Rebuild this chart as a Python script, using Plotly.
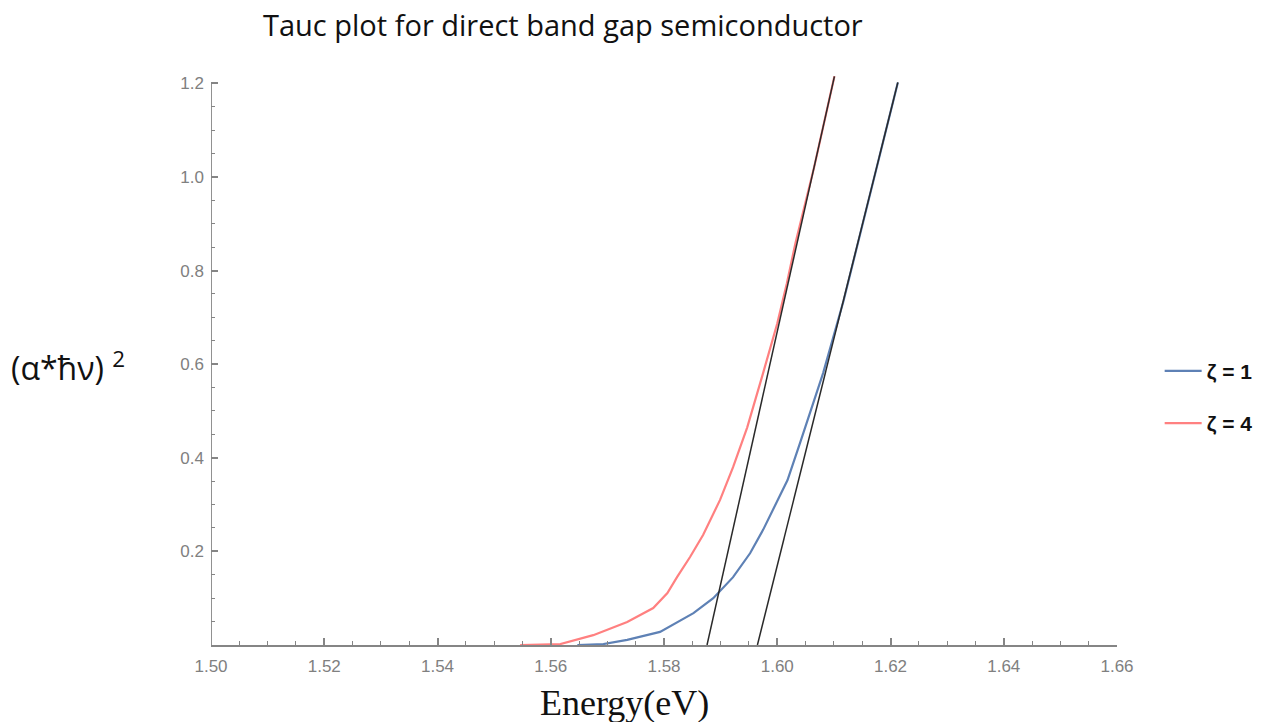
import plotly.graph_objects as go

# zeta = 1 curve (blue)
x_z1 = [1.5647, 1.5693, 1.5735, 1.5793, 1.5852, 1.5887, 1.5922, 1.5952, 1.5975,
        1.6018, 1.6040, 1.6063, 1.6081, 1.6117, 1.6157, 1.6213]
y_z1 = [0.000, 0.002, 0.011, 0.028, 0.068, 0.100, 0.145, 0.196, 0.246,
        0.352, 0.431, 0.517, 0.581, 0.735, 0.930, 1.202]

# zeta = 4 curve (red)
x_z4 = [1.5546, 1.5617, 1.5675, 1.5735, 1.5781, 1.5806, 1.5823, 1.5846, 1.5869,
        1.5899, 1.5922, 1.5947, 1.5975, 1.6000, 1.6017, 1.6032, 1.6065, 1.6101]
y_z4 = [0.000, 0.002, 0.021, 0.049, 0.079, 0.111, 0.145, 0.188, 0.235,
        0.310, 0.380, 0.465, 0.581, 0.687, 0.773, 0.858, 1.020, 1.215]

# tangent (linear fit) lines
x_fit4 = [1.5876, 1.6101]
y_fit4 = [0.0, 1.215]
x_fit1 = [1.5965, 1.6213]
y_fit1 = [0.0, 1.202]

x_tick_vals = [1.50, 1.52, 1.54, 1.56, 1.58, 1.60, 1.62, 1.64, 1.66]
x_tick_text = ["1.50", "1.52", "1.54", "1.56", "1.58", "1.60", "1.62", "1.64", "1.66"]
y_tick_vals = [0.2, 0.4, 0.6, 0.8, 1.0, 1.2]
y_tick_text = ["0.2", "0.4", "0.6", "0.8", "1.0", "1.2"]

BLUE = "#5E81B5"
RED = "#FF8080"
AX = "#858585"

fig = go.Figure()
fig.add_trace(go.Scatter(x=x_z1, y=y_z1, mode="lines", name="\u03b6 = 1",
                         line=dict(color=BLUE, width=2.2), legendgroup="a"))
fig.add_trace(go.Scatter(x=x_z4, y=y_z4, mode="lines", name="\u03b6 = 4",
                         line=dict(color=RED, width=2.2), legendgroup="b"))
fig.add_trace(go.Scatter(x=x_fit4, y=y_fit4, mode="lines", showlegend=False,
                         line=dict(color="#2a2a2a", width=1.5)))
fig.add_trace(go.Scatter(x=x_fit1, y=y_fit1, mode="lines", showlegend=False,
                         line=dict(color="#2a2a2a", width=1.5)))

# y-axis line only up to 1.2
fig.add_shape(type="line", xref="x", yref="y", x0=1.5, x1=1.5, y0=0, y1=1.2,
              line=dict(color=AX, width=1.8), layer="above")

fig.update_layout(
    width=1279, height=722,
    margin=dict(l=210.5, r=161.7, t=73.6, b=77),
    paper_bgcolor="white", plot_bgcolor="white",
    showlegend=True,
    legend=dict(x=(1160 - 210.5) / 906.8, y=0.434, xanchor="left", yanchor="middle",
                font=dict(family="Liberation Sans", size=21, color="#111", weight="bold"),
                itemwidth=37, tracegroupgap=22, bgcolor="rgba(0,0,0,0)"),
    font=dict(family="Liberation Sans"),
)
fig.update_xaxes(range=[1.5, 1.66], tickvals=x_tick_vals, ticktext=x_tick_text,
                 showgrid=False, zeroline=False, showline=True, linecolor=AX, linewidth=1.8,
                 ticks="inside", ticklen=7, tickcolor=AX, tickwidth=1.5,
                 tickfont=dict(family="Liberation Sans", size=17, color="#808080"),
                 minor=dict(dtick=0.005, tick0=1.5, ticks="inside", ticklen=4,
                            tickcolor=AX, tickwidth=1.2, showgrid=False),
                 ticklabelstandoff=5)
fig.update_yaxes(range=[0, 1.22], tickvals=y_tick_vals, ticktext=y_tick_text,
                 showgrid=False, zeroline=False, showline=False,
                 ticks="inside", ticklen=7, tickcolor=AX, tickwidth=1.5,
                 tickfont=dict(family="Liberation Sans", size=17, color="#808080"),
                 minor=dict(dtick=0.05, tick0=0, ticks="inside", ticklen=4,
                            tickcolor=AX, tickwidth=1.2, showgrid=False),
                 ticklabelstandoff=6)

fig.add_annotation(text="Tauc plot for direct band gap semiconductor",
                   xref="paper", yref="paper", x=(563 - 210.5) / 906.8, y=(645 - 24) / 571.4,
                   xanchor="center", yanchor="middle", showarrow=False,
                   font=dict(family="Open Sans", size=29, color="#111"))
fig.add_annotation(text="(\u03b1*\u0127\u03bd) <sup>2</sup>",
                   xref="paper", yref="paper", x=(8 - 210.5) / 906.8, y=(645 - 366) / 571.4,
                   xanchor="left", yanchor="middle", showarrow=False,
                   font=dict(family="Open Sans", size=32, color="#111"))
fig.add_annotation(text="Energy(eV)",
                   xref="paper", yref="paper", x=(624 - 210.5) / 906.8, y=(645 - 703) / 571.4,
                   xanchor="center", yanchor="middle", showarrow=False,
                   font=dict(family="Liberation Serif", size=36, color="#111"))

fig.write_html("out.html")
